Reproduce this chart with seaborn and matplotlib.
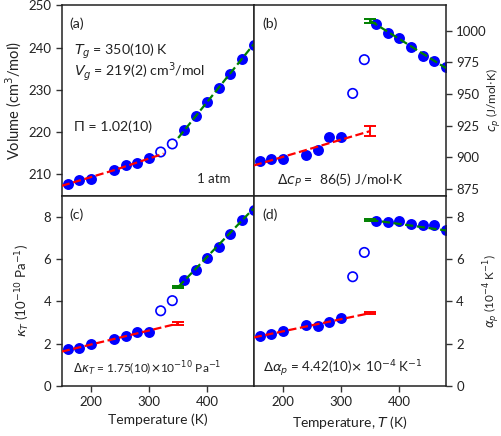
import numpy as np
import pandas as pd
import matplotlib
matplotlib.use("Agg")
import matplotlib.pyplot as plt
import seaborn as sns

# Measured points (K)
temperature = [160, 180, 200, 240, 260, 280, 300, 320, 340, 360, 380, 400, 420, 440, 460, 480]
phase = ["glass"] * 7 + ["transition"] * 2 + ["liquid"] * 7

volume = [207.8, 208.7, 208.8, 211.1, 212.2, 212.8, 213.9, 215.3, 217.2,
          220.4, 223.8, 227.1, 230.4, 233.8, 237.3, 240.7]
heat_capacity = [897.4, 898.7, 898.7, 901.6, 905.7, 916.1, 915.9, 950.5, 977.1,
                 1005.5, 998.4, 994.0, 986.7, 979.7, 975.8, 971.4]
compressibility = [1.73, 1.80, 1.96, 2.20, 2.37, 2.56, 2.56, 3.55, 4.03,
                   5.02, 5.47, 6.07, 6.57, 7.17, 7.86, 8.31]
expansivity = [2.35, 2.46, 2.60, 2.89, 2.85, 3.04, 3.20, 5.16, 6.31,
               7.80, 7.76, 7.80, 7.67, 7.62, 7.62, 7.37]

# Linear fits of the glass (red) and liquid (green) branches
vol_glass_T, vol_glass_fit = [150, 240, 325], [207.3, 211.0, 214.9]
vol_liquid_T, vol_liquid_fit = [350, 480], [218.6, 240.8]

glass_T = [150, 350]
liquid_T = [350, 480]
cp_glass_fit, cp_liquid_fit = [893.7, 920.8], [1007.8, 970.5]
cp_glass_err, cp_liquid_err = 4.0, 1.5
kappa_glass_fit, kappa_liquid_fit = [1.62, 2.95], [4.67, 8.40]
kappa_glass_err, kappa_liquid_err = 0.06, 0.06
alpha_glass_fit, alpha_liquid_fit = [2.29, 3.44], [7.85, 7.35]
alpha_glass_err, alpha_liquid_err = 0.06, 0.06

df = pd.DataFrame({"T": temperature, "phase": phase, "V": volume,
                   "cp": heat_capacity, "kappa": compressibility,
                   "alpha": expansivity})

sns.set_theme(style="ticks")
plt.rcParams["font.family"] = ["Lato", "DejaVu Sans"]
plt.rcParams["mathtext.fontset"] = "dejavusans"
plt.rcParams["axes.linewidth"] = 1.1
plt.rcParams["axes.edgecolor"] = "#222222"
plt.rcParams["xtick.major.size"] = 4
plt.rcParams["ytick.major.size"] = 4
plt.rcParams["xtick.color"] = "#333333"
plt.rcParams["ytick.color"] = "#333333"

fig = plt.figure(figsize=(5.02, 4.36), dpi=100)
axes = fig.subplots(2, 2, sharex=True)
fig.subplots_adjust(left=0.123, right=0.888, top=0.988, bottom=0.115,
                    hspace=0, wspace=0)
ax_a, ax_b = axes[0]
ax_c, ax_d = axes[1]

FS = 9.5
INK = "#222222"
RED = "#ff0000"
GREEN = "#008000"
BLUE = "#0000ff"


def draw_points(ax, col):
    solid = df[df["phase"] != "transition"]
    hollow = df[df["phase"] == "transition"]
    sns.scatterplot(data=solid, x="T", y=col, ax=ax, color=BLUE, s=62,
                    edgecolor=BLUE, linewidth=0, zorder=2, legend=False)
    sns.scatterplot(data=hollow, x="T", y=col, ax=ax, facecolor="none",
                    edgecolor=BLUE, s=46, linewidth=1.2, zorder=2, legend=False)


def draw_fit(ax, xs, ys, color, err=None, at_end=True):
    sns.lineplot(x=xs, y=ys, ax=ax, color=color, linestyle="--",
                 linewidth=1.6, zorder=3, dashes=(4.5, 2.5))
    if err is not None:
        xe = xs[-1] if at_end else xs[0]
        ye = ys[-1] if at_end else ys[0]
        ax.errorbar([xe], [ye], yerr=[err], color=color, capsize=4,
                    elinewidth=1.4, capthick=1.4, fmt="none", zorder=3)


# (a) molar volume
draw_points(ax_a, "V")
draw_fit(ax_a, vol_glass_T, vol_glass_fit, RED)
draw_fit(ax_a, vol_liquid_T, vol_liquid_fit, GREEN)
ax_a.set_ylim(205, 250)
ax_a.set_yticks([210, 220, 230, 240, 250])
ax_a.set_ylabel("Volume (cm$^3$/mol)", fontsize=10.5, color=INK, labelpad=3)

# (b) heat capacity
draw_points(ax_b, "cp")
draw_fit(ax_b, glass_T, cp_glass_fit, RED, cp_glass_err, at_end=True)
draw_fit(ax_b, liquid_T, cp_liquid_fit, GREEN, cp_liquid_err, at_end=False)
ax_b.set_ylim(870, 1020)
ax_b.set_yticks([875, 900, 925, 950, 975, 1000])
ax_b.set_ylabel("$c_p$ (J/mol$\\cdot$K)", fontsize=8.5, color=INK)

# (c) isothermal compressibility
draw_points(ax_c, "kappa")
draw_fit(ax_c, glass_T, kappa_glass_fit, RED, kappa_glass_err, at_end=True)
draw_fit(ax_c, liquid_T, kappa_liquid_fit, GREEN, kappa_liquid_err, at_end=False)
ax_c.set_ylim(0, 9)
ax_c.set_yticks([0, 2, 4, 6, 8])
ax_c.set_ylabel("$\\kappa_T$ (10$^{-10}$ Pa$^{-1}$)", fontsize=9.5, color=INK, labelpad=8)

# (d) thermal expansivity
draw_points(ax_d, "alpha")
draw_fit(ax_d, glass_T, alpha_glass_fit, RED, alpha_glass_err, at_end=True)
draw_fit(ax_d, liquid_T, alpha_liquid_fit, GREEN, alpha_liquid_err, at_end=False)
ax_d.set_ylim(0, 9)
ax_d.set_yticks([0, 2, 4, 6, 8])
ax_d.set_ylabel("$\\alpha_p$ (10$^{-4}$ K$^{-1}$)", fontsize=8.5, color=INK)

for ax in (ax_b, ax_d):
    ax.yaxis.tick_right()
    ax.yaxis.set_label_position("right")
ax_b.yaxis.set_label_coords(1.205, 0.5)
ax_d.yaxis.set_label_coords(1.185, 0.5)

for ax in axes.flat:
    ax.set_xlim(150, 480)
    ax.set_xticks([200, 300, 400])
    ax.tick_params(labelsize=FS, width=1.0, direction="out", labelcolor=INK)
    ax.set_xlabel("")

ax_c.set_xlabel("Temperature (K)", fontsize=FS + 0.5, color=INK)
ax_d.set_xlabel("Temperature, $T$ (K)", fontsize=FS + 0.5, color=INK)
for ax in (ax_a, ax_b):
    ax.tick_params(axis="x", bottom=False)

# Panel annotations
txt = dict(fontsize=10.2, color=INK, va="center")
ax_a.text(0.04, 0.905, "(a)", transform=ax_a.transAxes, **txt)
ax_a.text(0.065, 0.757, "$T_g$ = 350(10) K", transform=ax_a.transAxes, **txt)
ax_a.text(0.065, 0.650, "$V_g$ = 219(2) cm$^3$/mol", transform=ax_a.transAxes, **txt)
ax_a.text(0.065, 0.36, "Π = 1.02(10)", transform=ax_a.transAxes, **txt)
ax_a.text(0.88, 0.085, "1 atm", transform=ax_a.transAxes, ha="right",
          fontsize=9.5, color=INK, va="center")

ax_b.text(0.047, 0.905, "(b)", transform=ax_b.transAxes, **txt)
ax_b.text(0.12, 0.08, "$\\Delta c_P$ =  86(5) J/mol·K", transform=ax_b.transAxes,
          va="center", fontsize=10, color=INK)

ax_c.text(0.04, 0.90, "(c)", transform=ax_c.transAxes, **txt)
ax_c.text(0.06, 0.09, "$\\Delta\\kappa_T$ = 1.75(10)$\\times$10$^{-10}$ Pa$^{-1}$",
          transform=ax_c.transAxes, va="center", fontsize=8.6, color=INK)

ax_d.text(0.047, 0.90, "(d)", transform=ax_d.transAxes, **txt)
ax_d.text(0.047, 0.09, "$\\Delta\\alpha_p$ = 4.42(10)$\\times$ 10$^{-4}$ K$^{-1}$",
          transform=ax_d.transAxes, va="center", fontsize=9.6, color=INK)

fig.savefig("out.png", dpi=100)
